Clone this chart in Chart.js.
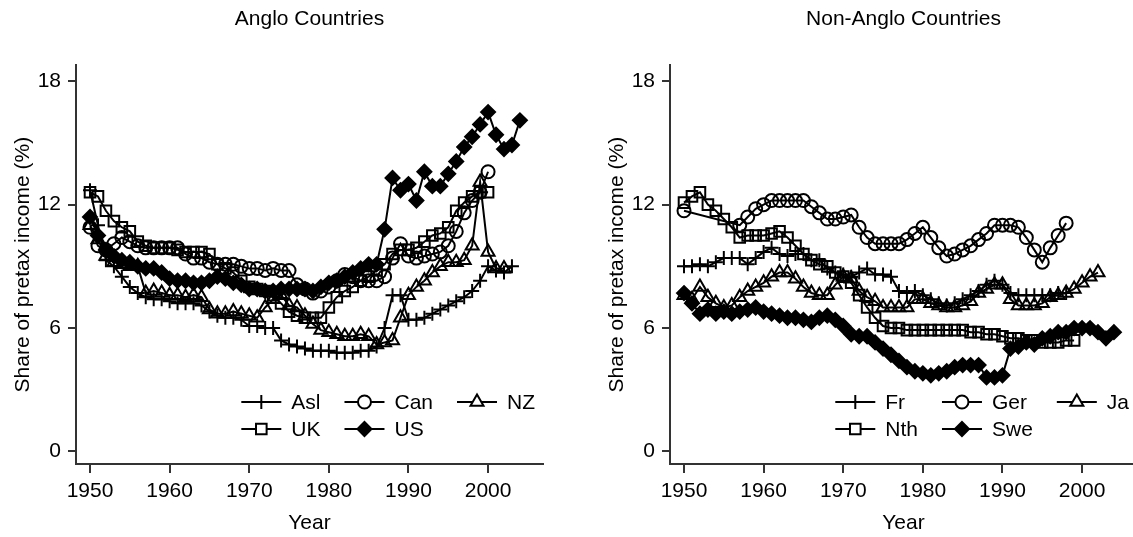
<!DOCTYPE html>
<html>
<head>
<meta charset="utf-8">
<script src="https://cdn.jsdelivr.net/npm/chart.js@4.4.1/dist/chart.umd.min.js"></script>
<style>
  html, body { margin: 0; padding: 0; background: #fff; overflow: hidden; width: 1133px; height: 537px; }
  canvas { position: absolute; top: 0; }
  #anglo { left: 0; }
  #nonAnglo { left: 594px; }
</style>
</head>
<body>
<canvas id="anglo" width="566" height="537"></canvas>
<canvas id="nonAnglo" width="566" height="537"></canvas>
<script>
// years on the x axis
const years = [1950, 1951, 1952, 1953, 1954, 1955, 1956, 1957, 1958, 1959,
  1960, 1961, 1962, 1963, 1964, 1965, 1966, 1967, 1968, 1969,
  1970, 1971, 1972, 1973, 1974, 1975, 1976, 1977, 1978, 1979,
  1980, 1981, 1982, 1983, 1984, 1985, 1986, 1987, 1988, 1989,
  1990, 1991, 1992, 1993, 1994, 1995, 1996, 1997, 1998, 1999,
  2000, 2001, 2002, 2003, 2004];

const yearTicks = [1950, 1960, 1970, 1980, 1990, 2000];
const shareTicks = [0, 6, 12, 18];

// Anglo countries, share of pretax income (%)
const asl = [12.7, 11.0, 9.3, 9.0, 8.5, 8.0, 7.7, 7.5, 7.4, 7.4,
  7.3, 7.2, 7.2, 7.2, 7.1, 6.8, 6.6, 6.5, 6.5, 6.4,
  6.1, 6.1, 6.0, 6.0, 5.4, 5.2, 5.1, 5.0, 4.9, 4.9,
  4.9, 4.8, 4.8, 4.8, 4.9, 4.9, 5.1, 6.0, 7.6, 7.6,
  6.4, 6.4, 6.5, 6.7, 6.9, 7.1, 7.3, 7.5, 7.8, 8.3,
  9.0, 8.8, 8.7, 9.0, null];
const can = [10.9, 10.0, 9.8, 10.1, 10.4, 10.2, 10.0, 9.9, 9.9, 9.9,
  9.9, 9.9, 9.6, 9.4, 9.4, 9.2, 9.1, 9.1, 9.1, 9.0,
  8.9, 8.9, 8.8, 8.9, 8.8, 8.8, 8.1, 7.9, 7.7, 7.8,
  8.0, 8.3, 8.6, 8.5, 8.3, 8.3, 8.3, 8.5, 9.4, 10.1,
  9.5, 9.4, 9.5, 9.6, 9.7, 10.0, 10.7, 11.6, 12.2, 12.6,
  13.6, null, null, null, null];
const nz = [11.0, 10.3, 9.5, 9.2, 9.1, 9.0, 9.0, 7.7, 7.8, 7.7,
  7.6, 7.6, 7.5, 7.6, 7.5, 6.9, 6.7, 6.7, 6.8, 6.7,
  6.6, 6.5, 7.0, 7.4, 7.6, 7.1, 7.0, 6.6, 6.2, 5.9,
  5.8, 5.7, 5.6, 5.6, 5.7, 5.6, 5.2, 5.3, 5.4, 6.5,
  7.6, 8.0, 8.3, 8.7, 9.0, 9.2, 9.2, 9.3, 10.0, 13.1,
  9.7, 8.9, 8.9, null, null];
const uk = [12.6, 12.4, 11.7, 11.2, 10.9, 10.7, 10.2, 10.0, 9.9, 9.9,
  9.9, 9.8, 9.7, 9.7, 9.7, 9.6, 9.1, 8.9, 8.7, 8.3,
  8.0, 7.9, 7.8, 7.6, 7.2, 6.8, 6.6, 6.5, 6.5, 6.5,
  7.0, 7.5, 7.8, 8.0, 8.3, 8.5, 8.8, 9.1, 9.6, 9.8,
  9.8, 9.9, 10.2, 10.5, 10.6, 10.9, 11.7, 12.1, 12.4, 12.6,
  12.6, null, null, null, null];
const us = [11.4, 10.5, 9.8, 9.5, 9.3, 9.2, 9.0, 8.9, 8.9, 8.7,
  8.4, 8.3, 8.3, 8.2, 8.2, 8.3, 8.5, 8.4, 8.2, 8.1,
  7.9, 7.9, 7.8, 7.8, 7.9, 7.9, 7.9, 7.9, 7.8, 8.0,
  8.2, 8.3, 8.5, 8.7, 8.9, 9.1, 9.1, 10.8, 13.3, 12.7,
  13.0, 12.2, 13.6, 12.9, 12.9, 13.5, 14.1, 14.8, 15.3, 15.9,
  16.5, 15.4, 14.7, 14.9, 16.1];

// Non-Anglo countries
const fr = [9.0, 9.0, 9.1, 9.0, 9.2, 9.4, 9.4, 9.4, 9.1, 9.4,
  9.7, 9.9, 9.6, 9.5, 9.6, 9.6, 9.3, 9.3, 8.9, 8.7,
  8.6, 8.5, 8.7, 8.9, 8.6, 8.6, 8.5, 7.8, 7.7, 7.8,
  7.6, 7.4, 7.2, 7.1, 7.2, 7.4, 7.6, 7.8, 8.1, 8.3,
  8.1, 7.7, 7.6, 7.6, 7.6, 7.6, 7.6, 7.7, 7.7, null,
  null, null, null, null, null];
const ger = [11.7, null, null, null, null, null, null, 11.0, 11.4, 11.8,
  12.0, 12.2, 12.2, 12.2, 12.2, 12.2, 11.9, 11.6, 11.3, 11.3,
  11.4, 11.5, 10.9, 10.4, 10.1, 10.1, 10.1, 10.1, 10.3, 10.6,
  10.9, 10.4, 9.9, 9.5, 9.6, 9.8, 10.0, 10.3, 10.6, 11.0,
  11.0, 11.0, 10.9, 10.4, 9.8, 9.2, 9.9, 10.5, 11.1, null,
  null, null, null, null, null];
const ja = [7.6, 7.4, 8.0, 7.5, 7.2, 7.0, 7.1, 7.5, 7.8, 8.0,
  8.2, 8.5, 8.7, 8.7, 8.4, 8.0, 7.7, 7.6, 7.6, 8.1,
  8.5, 8.4, 7.8, 7.5, 7.3, 7.0, 7.0, 7.0, 7.0, 7.4,
  7.4, 7.2, 7.1, 7.0, 7.0, 7.1, 7.3, 7.7, 7.9, 8.1,
  8.1, 7.4, 7.1, 7.1, 7.1, 7.2, 7.5, 7.6, 7.7, 7.9,
  8.2, 8.5, 8.7, null, null];
const nth = [12.1, 12.4, 12.6, 12.0, 11.7, 11.3, 10.9, 10.4, 10.5, 10.5,
  10.5, 10.6, 10.7, 10.4, 10.0, 9.6, 9.3, 9.1, 9.0, 8.7,
  8.5, 8.2, 7.6, 7.0, 6.5, 6.1, 6.0, 6.0, 5.9, 5.9,
  5.9, 5.9, 5.9, 5.9, 5.9, 5.9, 5.8, 5.8, 5.7, 5.7,
  5.6, 5.5, 5.5, 5.4, 5.4, 5.3, 5.3, 5.3, 5.4, 5.4,
  null, null, null, null, null];
const swe = [7.7, 7.2, 6.7, 6.9, 6.7, 6.8, 6.7, 6.8, 6.9, 7.0,
  6.8, 6.7, 6.6, 6.5, 6.5, 6.4, 6.3, 6.5, 6.6, 6.4,
  6.1, 5.7, 5.6, 5.6, 5.3, 5.0, 4.7, 4.4, 4.1, 3.9,
  3.8, 3.7, 3.8, 3.9, 4.1, 4.2, 4.2, 4.2, 3.6, 3.6,
  3.7, 5.0, 5.1, 5.3, 5.2, 5.5, 5.6, 5.8, 5.8, 6.0,
  6.0, 6.0, 5.8, 5.5, 5.8];

const FONT = "'Liberation Sans', Arial, Helvetica, sans-serif";
const INK = '#000';
const AXIS = '#333';

Chart.defaults.font.family = FONT;
Chart.defaults.font.size = 21;
Chart.defaults.color = INK;

// marker look per symbol
const markers = {
  plus:     { pointStyle: 'cross',    radius: 7,   fill: 'rgba(0,0,0,0)' },
  circle:   { pointStyle: 'circle',   radius: 6.5, fill: 'rgba(0,0,0,0)' },
  triangle: { pointStyle: 'triangle', radius: 7.5, fill: 'rgba(0,0,0,0)' },
  square:   { pointStyle: 'rect',     radius: 7.5, fill: 'rgba(0,0,0,0)' },
  diamond:  { pointStyle: 'rectRot',  radius: 7,   fill: '#000' }
};

function toPoints(values) {
  let pts = [];
  values.forEach((v, i) => {
    if (v !== null) pts.push({ x: years[i], y: v });
  });
  return pts;
}

function makeSet(label, values, symbol) {
  let m = markers[symbol];
  return {
    label: label,
    data: toPoints(values),
    borderColor: INK,
    borderWidth: 2,
    pointStyle: m.pointStyle,
    pointRadius: m.radius,
    pointBorderWidth: 2,
    pointBorderColor: INK,
    pointBackgroundColor: m.fill,
    fill: false,
    tension: 0,
    symbol: symbol
  };
}

// draw a legend marker with the same geometry Chart.js uses
function drawMarker(ctx, symbol, x, y) {
  let m = markers[symbol];
  let r = m.radius;
  ctx.beginPath();
  if (symbol === 'plus') {
    ctx.moveTo(x, y - r); ctx.lineTo(x, y + r);
    ctx.moveTo(x - r, y); ctx.lineTo(x + r, y);
  } else if (symbol === 'circle') {
    ctx.arc(x, y, r, 0, Math.PI * 2);
  } else if (symbol === 'triangle') {
    ctx.moveTo(x, y - r);
    ctx.lineTo(x + r * Math.sin(Math.PI * 2 / 3), y - r * Math.cos(Math.PI * 2 / 3));
    ctx.lineTo(x + r * Math.sin(Math.PI * 4 / 3), y - r * Math.cos(Math.PI * 4 / 3));
    ctx.closePath();
  } else if (symbol === 'square') {
    let s = Math.SQRT1_2 * r;
    ctx.rect(x - s, y - s, 2 * s, 2 * s);
  } else {
    ctx.moveTo(x - r, y); ctx.lineTo(x, y - r);
    ctx.lineTo(x + r, y); ctx.lineTo(x, y + r);
    ctx.closePath();
  }
  if (symbol === 'diamond') {
    ctx.fillStyle = INK;
    ctx.fill();
  } else if (symbol !== 'plus') {
    ctx.fillStyle = '#fff';
    ctx.fill();
  }
  ctx.stroke();
}

// Stata style legend: 3 columns, bottom right inside the plot
const stataLegend = {
  id: 'stataLegend',
  afterDatasetsDraw(chart) {
    let ctx = chart.ctx;
    let sets = chart.data.datasets;
    let area = chart.chartArea;
    ctx.save();
    ctx.font = '21px ' + FONT;
    let symW = 40, textGap = 10, colGap = 24;
    let colW = [0, 1, 2].map(c => Math.max(...sets.filter((d, i) => i % 3 === c)
      .map(d => ctx.measureText(d.label).width)));
    let total = colW.reduce((s, w) => s + symW + textGap + w, 0) + colGap * 2;
    let colX = [];
    let x = area.right - 8 - total;
    colW.forEach(w => { colX.push(x); x += symW + textGap + w + colGap; });
    let rowY = [area.bottom - 62, area.bottom - 35];

    sets.forEach((d, i) => {
      let cx = colX[i % 3];
      let cy = rowY[Math.floor(i / 3)];
      ctx.strokeStyle = INK;
      ctx.lineWidth = 2;
      ctx.beginPath();
      ctx.moveTo(cx, cy);
      ctx.lineTo(cx + symW, cy);
      ctx.stroke();
      drawMarker(ctx, d.symbol, cx + symW / 2, cy);
      ctx.fillStyle = INK;
      ctx.textAlign = 'left';
      ctx.textBaseline = 'middle';
      ctx.fillText(d.label, cx + symW + textGap, cy + 1);
    });
    ctx.restore();
  }
};

function makeChart(id, title, datasets) {
  return new Chart(document.getElementById(id), {
    type: 'line',
    data: { datasets: datasets },
    options: {
      responsive: false,
      animation: false,
      devicePixelRatio: 1,
      layout: { padding: { left: 0, right: 23, top: 0, bottom: 0 } },
      plugins: {
        legend: { display: false },
        tooltip: { enabled: false },
        title: {
          display: true,
          text: title,
          fullSize: false,
          color: INK,
          font: { size: 21, weight: 'normal' },
          padding: { top: 7, bottom: 33 }
        }
      },
      scales: {
        x: {
          type: 'linear',
          min: 1948.24,
          max: 2006.9,
          afterBuildTicks: s => { s.ticks = yearTicks.map(v => ({ value: v })); },
          afterFit: s => { s.height = 73; },
          ticks: { callback: v => String(v), padding: 6, color: INK, font: { size: 21 }, maxRotation: 0 },
          grid: { drawOnChartArea: false, drawTicks: true, tickLength: 9, color: AXIS, lineWidth: 2 },
          border: { display: true, color: AXIS, width: 2 },
          title: { display: true, text: 'Year', color: INK, font: { size: 21 }, padding: { top: 0, bottom: 1 } }
        },
        y: {
          type: 'linear',
          min: -0.61,
          max: 18.78,
          afterBuildTicks: s => { s.ticks = shareTicks.map(v => ({ value: v })); },
          afterFit: s => { s.width = 76; },
          ticks: { padding: 7, color: INK, font: { size: 21 } },
          grid: { drawOnChartArea: false, drawTicks: true, tickLength: 8, color: AXIS, lineWidth: 2 },
          border: { display: true, color: AXIS, width: 2 },
          title: { display: true, text: 'Share of pretax income (%)', color: INK, font: { size: 21 }, padding: { top: 11, bottom: 0 } }
        }
      }
    },
    plugins: [stataLegend]
  });
}

makeChart('anglo', 'Anglo Countries', [
  makeSet('Asl', asl, 'plus'),
  makeSet('Can', can, 'circle'),
  makeSet('NZ', nz, 'triangle'),
  makeSet('UK', uk, 'square'),
  makeSet('US', us, 'diamond')
]);

makeChart('nonAnglo', 'Non-Anglo Countries', [
  makeSet('Fr', fr, 'plus'),
  makeSet('Ger', ger, 'circle'),
  makeSet('Ja', ja, 'triangle'),
  makeSet('Nth', nth, 'square'),
  makeSet('Swe', swe, 'diamond')
]);
</script>
</body>
</html>
